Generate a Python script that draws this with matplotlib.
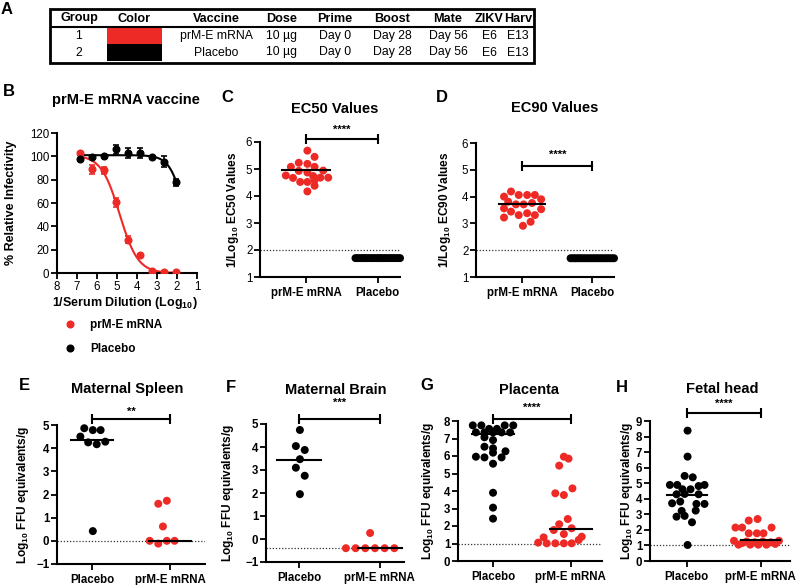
import numpy as np
import matplotlib
matplotlib.use('Agg')
import matplotlib.pyplot as plt
from matplotlib.lines import Line2D
from matplotlib.patches import Rectangle

plt.rcParams['font.family'] = ['Liberation Sans', 'DejaVu Sans']
plt.rcParams['mathtext.fontset'] = 'custom'
plt.rcParams['mathtext.rm'] = 'Liberation Sans:bold'
plt.rcParams['mathtext.bf'] = 'Liberation Sans:bold'
plt.rcParams['mathtext.it'] = 'Liberation Sans:bold'
plt.rcParams['mathtext.default'] = 'bf'

RED = '#ee2a27'

# ---- A: study table
table_header = ['Group', 'Color', 'Vaccine', 'Dose', 'Prime', 'Boost', 'Mate', 'ZIKV', 'Harv']
table_rows = [['1', '', 'prM-E mRNA', '10 µg', 'Day 0', 'Day 28', 'Day 56', 'E6', 'E13'],
              ['2', '', 'Placebo', '10 µg', 'Day 0', 'Day 28', 'Day 56', 'E6', 'E13']]
table_colors = [RED, 'black']

# ---- B: neutralization curves
b_dilution = [6.85, 6.25, 5.64, 5.04, 4.44, 3.84, 3.24, 2.63, 2.03]
b_red = [102.5, 89, 88, 60.5, 28.5, 15.5, 1.5, 0.8, 0.5]
b_red_err = [1, 4, 3, 4, 3, 1, 1, 0.5, 0.5]
b_black = [98, 99.5, 100.3, 106, 103, 103, 99.5, 95.5, 78]
b_black_err = [1, 1, 1, 4, 4, 4, 1, 5, 3]
b_red_fit = [101, 0, 4.87, 0.95]      # top, bottom, logEC50, hill
b_black_fit = [101, 0, 1.58, 1.17]

# ---- C: EC50
c_prm = [5.68, 5.45, 5.23, 5.19, 5.08, 5.08, 4.93, 4.94, 4.87, 4.76, 4.67, 4.74,
         4.68, 4.68, 4.52, 4.52, 4.58, 4.38, 4.17]
c_prm_jit = [0.02, 0.12, -0.10, 0.02, -0.21, 0.12, -0.10, 0.24, 0.02, -0.28, -0.18, 0.10,
             0.20, 0.31, -0.08, 0.02, 0.12, 0.12, 0.02]
c_placebo = [1.7] * 20
c_mean = 4.97

# ---- D: EC90
d_prm = [4.19, 4.06, 4.06, 4.06, 4.0, 3.9, 3.81, 3.71, 3.71, 3.76, 3.56, 3.53,
         3.44, 3.38, 3.31, 3.31, 3.22, 3.06, 2.91]
d_prm_jit = [-0.16, -0.05, 0.07, 0.18, -0.26, 0.27, -0.2, -0.09, 0.02, 0.14, -0.26, 0.27,
             -0.16, 0.07, -0.05, 0.18, -0.26, 0.12, 0.01]
d_placebo = [1.7] * 20
d_mean = 3.72

# ---- E: maternal spleen
e_placebo = [4.86, 4.78, 4.78, 4.50, 4.25, 4.17, 4.28, 0.42]
e_placebo_jit = [-0.10, 0.01, 0.11, -0.15, -0.05, 0.06, 0.17, 0.01]
e_prm = [1.60, 1.73, 0.62, 0.0, -0.12, 0.0, 0.0]
e_prm_jit = [-0.15, -0.04, -0.09, -0.26, -0.15, -0.04, 0.06]
e_medians = [4.37, 0.0]

# ---- F: maternal brain
f_placebo = [4.74, 4.04, 3.87, 3.47, 3.10, 2.75, 1.95]
f_placebo_jit = [0.01, -0.04, 0.07, 0.01, -0.04, 0.07, 0.01]
f_prm = [0.26, -0.4, -0.4, -0.4, -0.4, -0.4, -0.4]
f_prm_jit = [-0.12, -0.42, -0.30, -0.18, -0.06, 0.06, 0.18]
f_medians = [3.43, -0.4]

# ---- G: placenta
g_placebo = [7.75, 7.75, 7.75, 7.75, 7.55, 7.55, 7.35, 7.35, 7.35, 7.35, 7.35,
             7.07, 6.91, 6.53, 6.44, 5.96, 5.92, 5.92, 6.27, 6.19, 5.56, 3.90, 3.05, 2.42]
g_placebo_jit = [-0.26, -0.15, 0.15, 0.26, -0.05, 0.05, -0.22, -0.11, 0.0, 0.11, 0.22,
                 -0.11, 0.0, -0.11, 0.0, -0.22, -0.11, 0.11, 0.16, 0.0, 0.0, 0.0, 0.0, 0.0]
g_prm = [5.96, 5.85, 5.45, 4.15, 3.87, 3.77, 2.40, 2.10, 1.87, 1.77, 1.54, 1.35, 1.39,
         1.05, 1.01, 1.01, 1.01, 1.01, 1.20]
g_prm_jit = [-0.09, -0.03, -0.15, 0.02, -0.20, -0.09, -0.04, -0.15, 0.01, -0.22, -0.09, -0.35, 0.14,
             -0.42, -0.31, -0.20, -0.09, 0.01, 0.10]
g_medians = [7.25, 1.83]

# ---- H: fetal head
h_placebo = [8.38, 6.71, 5.47, 5.38, 4.89, 4.89, 4.82, 4.89, 4.61, 4.61, 4.29, 4.31, 4.29,
             3.71, 3.82, 3.67, 3.67, 3.22, 3.24, 2.90, 2.85, 2.49, 1.03]
h_placebo_jit = [0.01, 0.01, -0.03, 0.08, -0.23, -0.13, 0.16, 0.24, -0.06, 0.05, -0.14, -0.03, 0.16,
                 -0.20, -0.09, 0.13, 0.24, -0.07, 0.12, -0.03, -0.14, 0.07, 0.01]
h_prm = [2.6, 2.7, 2.15, 2.15, 2.15, 1.78, 1.78, 1.78,
         1.3, 1.15, 1.05, 1.05, 1.05, 1.1, 1.3, 1.05, 1.2, 1.2, 1.25, 1.25]
h_prm_jit = [-0.16, -0.04, -0.34, -0.25, 0.15, -0.16, -0.05, 0.04,
             -0.36, -0.25, -0.14, -0.03, 0.08, 0.20, 0.25, -0.30, -0.08, 0.14, -0.19, 0.03]
h_medians = [4.25, 1.33]

W, H = 800, 585
fig = plt.figure(figsize=(W / 100, H / 100), dpi=100)


def px_axes(left, top, right, bottom):
    return fig.add_axes([left / W, 1 - bottom / H, (right - left) / W, (bottom - top) / H])


def fig_text(x, y, s, **kw):
    fig.text(x / W, 1 - y / H, s, **kw)


def hill(x, top, bottom, logec50, slope):
    return bottom + (top - bottom) / (1 + 10 ** (slope * (logec50 - x)))


def style(ax, bold_ticks):
    for s in ['top', 'right']:
        ax.spines[s].set_visible(False)
    for s in ['left', 'bottom']:
        ax.spines[s].set_linewidth(1.5)
    ax.tick_params(direction='out', length=4, width=1.3, labelsize=8.3, pad=1.5)
    if bold_ticks:
        for lab in ax.get_yticklabels():
            lab.set_fontweight('bold')


def set_ylabel(ax, text, xpx, size):
    ax.set_ylabel(text, fontsize=size, fontweight='bold')
    bb = ax.get_position()
    ax.yaxis.set_label_coords(xpx / W, bb.y0 + bb.height / 2, transform=fig.transFigure)


def sig_bar(ax, x0, x1, y, ystar, stars):
    ax.plot([x0, x1], [y, y], color='black', lw=1.5, marker='|', ms=7, mew=1.5, clip_on=False)
    ax.text((x0 + x1) / 2, ystar, stars, ha='center', va='center', fontsize=8,
            fontweight='bold', clip_on=False)


def dots(ax, xpos, jit, vals, color):
    ax.scatter(np.array(jit) + xpos, vals, s=33, color=color, edgecolors='none',
               zorder=3, clip_on=False)


def median_line(ax, xpos, val, half=0.27):
    ax.plot([xpos - half, xpos + half], [val, val], color='black', lw=1.5, zorder=4)


# ---- A table
ax_a = px_axes(50, 9, 534, 63)
ax_a.set_xlim(50, 534)
ax_a.set_ylim(63, 9)
ax_a.axis('off')
col_x = [79, 134, 216, 282, 335, 392, 448, 489, 518]
ax_a.add_patch(Rectangle((50, 9), 484, 54, fill=False, lw=2, ec='black', clip_on=False))
ax_a.plot([50, 534], [27, 27], color='black', lw=1.5)
for cx, h in zip(col_x, table_header):
    ax_a.text(cx, 18.5, h, ha='center', va='center', fontsize=9.1, fontweight='bold')
for r, (row, c) in enumerate(zip(table_rows, table_colors)):
    yc = 36 + r * 16.5
    ax_a.add_patch(Rectangle((107, yc - 8.5), 55, 17 if r else 16, color=c, lw=0))
    for cx, v in zip(col_x, row):
        if v:
            ax_a.text(cx, yc, v, ha='center', va='center', fontsize=8.8)
fig_text(7, 9, 'A', fontsize=12, fontweight='bold', ha='center', va='center')

# ---- B
ax_b = px_axes(57, 133, 197, 273)
xs = np.linspace(b_dilution[0], b_dilution[-1], 200)
ax_b.plot(xs, hill(xs, *b_red_fit), color=RED, lw=1.5)
ax_b.plot(xs, hill(xs, *b_black_fit), color='black', lw=1.5)
ax_b.errorbar(b_dilution, b_red, yerr=b_red_err, fmt='o', color=RED, ms=4.8,
              capsize=2.5, elinewidth=1.2, capthick=1.2, zorder=3)
ax_b.errorbar(b_dilution, b_black, yerr=b_black_err, fmt='o', color='black', ms=4.8,
              capsize=2.5, elinewidth=1.2, capthick=1.2, zorder=3)
ax_b.set_xlim(8, 1)
ax_b.set_ylim(0, 120)
ax_b.set_xticks(range(8, 0, -1))
ax_b.set_yticks(range(0, 121, 20))
style(ax_b, False)
ax_b.set_xlabel('1/Serum Dilution (Log$_{10}$)', fontsize=9, fontweight='bold')
ax_b.xaxis.set_label_coords(125 / W, 1 - 295 / H, transform=fig.transFigure)
set_ylabel(ax_b, '% Relative Infectivity', 17, 9)
fig_text(9, 91, 'B', fontsize=12, fontweight='bold', ha='center', va='center')
fig_text(126, 100, 'prM-E mRNA vaccine', fontsize=10.5, fontweight='bold', ha='center', va='center')
handles = [Line2D([], [], ls='none', marker='o', ms=4.8, color=RED),
           Line2D([], [], ls='none', marker='o', ms=4.8, color='black')]
fig.legend(handles, ['prM-E mRNA', 'Placebo'], loc='center left',
           bbox_to_anchor=(64 / W, 1 - 337 / H), frameon=False, handlelength=1.0,
           handletextpad=1.2, labelspacing=1.0, borderpad=0, borderaxespad=0,
           prop={'weight': 'bold', 'size': 8.5})

# ---- C and D
cd_specs = [
    ('C', 'EC50 Values', (260, 142, 400, 277), (-0.64, 1.31), c_prm, c_prm_jit, c_placebo, c_mean,
     (6.12, 6.46), 241, (227, 98), (335, 109)),
    ('D', 'EC90 Values', (476, 143, 614, 277), (-0.66, 1.31), d_prm, d_prm_jit, d_placebo, d_mean,
     (5.15, 5.56), 453, (442, 98), (555, 108)),
]
for letter, title, box, xlim, prm, jit, plac, mean, (ybar, ystar), ylx, lpos, tpos in cd_specs:
    ax = px_axes(*box)
    ax.axhline(2, color='#333333', lw=0.9, ls=(0, (1, 1.5)), zorder=1)
    dots(ax, 0, jit, prm, RED)
    dots(ax, 1, np.linspace(-0.31, 0.31, len(plac)), plac, 'black')
    median_line(ax, 0, mean, 0.33)
    ax.set_xlim(*xlim)
    ax.set_ylim(1, 6)
    ax.set_xticks([0, 1])
    ax.set_xticklabels(['prM-E mRNA', 'Placebo'], fontsize=8.6, fontweight='bold')
    style(ax, False)
    ax.tick_params(axis='x', pad=3)
    set_ylabel(ax, '1/Log$_{10}$ ' + title, ylx, 8.5)
    sig_bar(ax, 0, 1, ybar, ystar, '****')
    fig_text(*lpos, letter, fontsize=12, fontweight='bold', ha='center', va='center')
    fig_text(*tpos, title, fontsize=10.5, fontweight='bold', ha='center', va='center')

# ---- E to H
efgh_specs = [
    ('E', 'Maternal Spleen', (57, 425, 205, 564), (-0.45, 1.45), (-1, 5), range(-1, 6), 0.0,
     e_placebo, e_placebo_jit, e_prm, e_prm_jit, e_medians, (5.25, 5.57), '**', 31, (24, 386), (127, 389)),
    ('F', 'Maternal Brain', (266, 424, 404, 562), (-0.41, 1.3), (-1, 5), range(-1, 6), -0.4,
     f_placebo, f_placebo_jit, f_prm, f_prm_jit, f_medians, (5.22, 5.9), '***', 236, (231, 387), (336, 390)),
    ('G', 'Placenta', (458, 421, 602, 561), (-0.45, 1.4), (0, 8), range(0, 9), 1.0,
     g_placebo, g_placebo_jit, g_prm, g_prm_jit, g_medians, (8.1, 8.73), '****', 436, (427, 386), (529, 390)),
    ('H', 'Fetal head', (650, 421, 790, 561), (-0.5, 1.4), (0, 9), range(0, 10), 1.05,
     h_placebo, h_placebo_jit, h_prm, h_prm_jit, h_medians, (9.5, 10.1), '****', 635, (622, 387), (722, 389)),
]
for (letter, title, box, xlim, ylim, yticks, lod, plac, pjit, prm, mjit, meds,
     (ybar, ystar), stars, ylx, lpos, tpos) in efgh_specs:
    ax = px_axes(*box)
    ax.axhline(lod, color='#333333', lw=0.9, ls=(0, (1, 1.5)), zorder=1)
    dots(ax, 0, pjit, plac, 'black')
    dots(ax, 1, mjit, prm, RED)
    median_line(ax, 0, meds[0])
    median_line(ax, 1, meds[1])
    ax.set_xlim(*xlim)
    ax.set_ylim(*ylim)
    ax.set_yticks(list(yticks))
    ax.set_xticks([0, 1])
    ax.set_xticklabels(['Placebo', 'prM-E mRNA'], fontsize=8.4, fontweight='bold')
    style(ax, True)
    ax.tick_params(axis='x', pad=3)
    set_ylabel(ax, 'Log$_{10}$ FFU equivalents/g', ylx, 8.6)
    sig_bar(ax, 0, 1, ybar, ystar, stars)
    fig_text(*lpos, letter, fontsize=12, fontweight='bold', ha='center', va='center')
    fig_text(*tpos, title, fontsize=10.5, fontweight='bold', ha='center', va='center')

fig.savefig('out.png', dpi=100)
